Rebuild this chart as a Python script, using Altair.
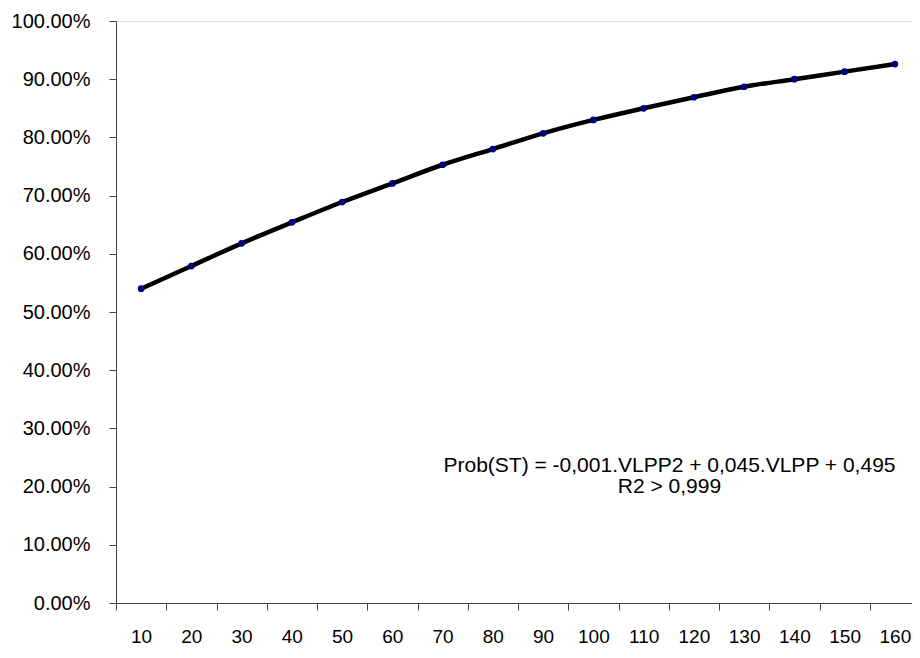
import altair as alt
import pandas as pd

vlpp = [10, 20, 30, 40, 50, 60, 70, 80, 90, 100, 110, 120, 130, 140, 150, 160]
prob = [0.540, 0.579, 0.618, 0.654, 0.689, 0.721, 0.753, 0.780, 0.807, 0.830,
        0.850, 0.869, 0.887, 0.900, 0.913, 0.926]
tick_positions = [5, 15, 25, 35, 45, 55, 65, 75, 85, 95, 105, 115, 125, 135, 145, 155]
y_ticks = [0, 0.1, 0.2, 0.3, 0.4, 0.5, 0.6, 0.7, 0.8, 0.9, 1.0]
annotation = ["Prob(ST) = -0,001.VLPP2 + 0,045.VLPP + 0,495", "R2 > 0,999"]

df = pd.DataFrame({"VLPP": vlpp, "Prob": prob})

FONT = "Liberation Sans"
W, H = 796, 582

x_enc = alt.X(
    "VLPP:Q",
    scale=alt.Scale(domain=[5, 163.4], nice=False, zero=False),
    axis=alt.Axis(
        values=tick_positions,
        labelExpr="datum.value + 5",
        labelOffset=25.1,
        tickSize=7,
        labelPadding=17,
        labelFontSize=19,
        labelFont=FONT,
        labelColor="black",
        labelOverlap=False,
        labelFlush=False,
        grid=False,
        title=None,
        domainColor="#444444",
        tickColor="#444444",
    ),
)
y_enc = alt.Y(
    "Prob:Q",
    scale=alt.Scale(domain=[0, 1], nice=False),
    axis=alt.Axis(
        values=y_ticks,
        format=".2%",
        tickSize=7,
        labelPadding=19,
        labelFontSize=20,
        labelFont=FONT,
        labelColor="black",
        grid=False,
        title=None,
        domainColor="#444444",
        tickColor="#444444",
    ),
)

line = alt.Chart(df).mark_line(
    color="black", strokeWidth=4.5, interpolate="monotone"
).encode(x=x_enc, y=y_enc)

points = alt.Chart(df).mark_point(
    filled=True, shape="circle", color="#000080", size=45, opacity=1
).encode(x="VLPP:Q", y="Prob:Q")

text_layers = []
for label, ypix in zip(annotation, [450.5, 471.5]):
    text_layers.append(
        alt.Chart(pd.DataFrame({"text": [label]})).mark_text(
            font=FONT, fontSize=21, color="black", align="center", baseline="alphabetic"
        ).encode(x=alt.value(553.5), y=alt.value(ypix), text="text:N")
    )

chart = alt.layer(line, points, *text_layers).properties(
    width=W,
    height=H,
    padding={"left": 108, "top": 13, "right": 0, "bottom": 47},
    autosize=alt.AutoSizeParams(type="none"),
).configure_view(stroke=None).configure(background="white")

chart.save("out.html", embed_options={"renderer": "svg", "actions": False})
